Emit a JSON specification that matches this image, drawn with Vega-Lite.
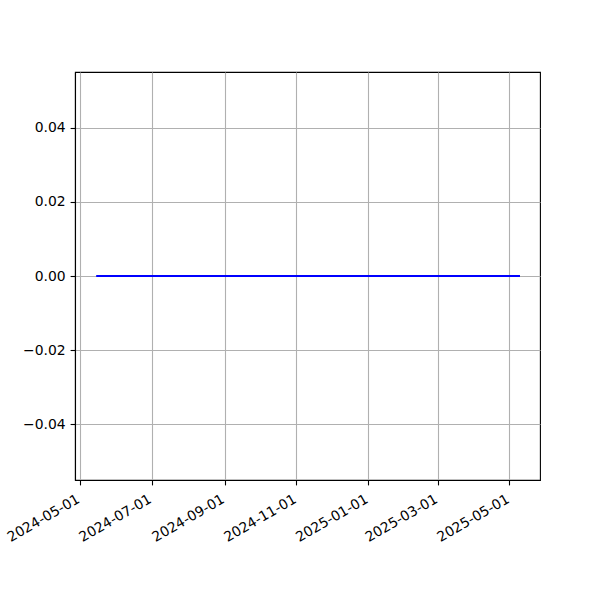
{
  "$schema": "https://vega.github.io/schema/vega-lite/v6.json",
  "width": 465,
  "height": 408,
  "autosize": "none",
  "padding": {"left": 75, "top": 72, "right": 60, "bottom": 120},
  "background": "white",
  "config": {
    "font": "DejaVu Sans",
    "view": {"stroke": "black", "strokeWidth": 1.1},
    "axis": {
      "labelFont": "DejaVu Sans",
      "labelFontSize": 13.9,
      "labelColor": "black",
      "domainColor": "black",
      "domainWidth": 1.1,
      "tickColor": "black",
      "tickWidth": 1.1,
      "tickSize": 4.9,
      "labelPadding": 4.9,
      "gridColor": "#b0b0b0",
      "gridWidth": 1.1,
      "title": null
    }
  },
  "data": {
    "values": [
      {"date": "2024-05-15T00:00:00", "value": 0},
      {"date": "2024-06-15T00:00:00", "value": 0},
      {"date": "2024-07-15T00:00:00", "value": 0},
      {"date": "2024-08-15T00:00:00", "value": 0},
      {"date": "2024-09-15T00:00:00", "value": 0},
      {"date": "2024-10-15T00:00:00", "value": 0},
      {"date": "2024-11-15T00:00:00", "value": 0},
      {"date": "2024-12-15T00:00:00", "value": 0},
      {"date": "2025-01-15T00:00:00", "value": 0},
      {"date": "2025-02-15T00:00:00", "value": 0},
      {"date": "2025-03-15T00:00:00", "value": 0},
      {"date": "2025-04-15T00:00:00", "value": 0},
      {"date": "2025-05-10T00:00:00", "value": 0}
    ]
  },
  "mark": {"type": "line", "color": "#0000ff", "strokeWidth": 2.1, "clip": true},
  "encoding": {
    "x": {
      "field": "date",
      "type": "temporal",
      "scale": {
        "domain": [
          {"year": 2024, "month": 4, "date": 27},
          {"year": 2025, "month": 5, "date": 27}
        ],
        "nice": false
      },
      "axis": {
        "values": [
          {"year": 2024, "month": 5, "date": 1},
          {"year": 2024, "month": 7, "date": 1},
          {"year": 2024, "month": 9, "date": 1},
          {"year": 2024, "month": 11, "date": 1},
          {"year": 2025, "month": 1, "date": 1},
          {"year": 2025, "month": 3, "date": 1},
          {"year": 2025, "month": 5, "date": 1}
        ],
        "format": "%Y-%m-%d",
        "labelAngle": -30,
        "labelAlign": "right",
        "labelBaseline": "top",
        "labelFlush": false,
        "labelOverlap": false,
        "labelOffset": -5,
        "labelPadding": 7,
        "grid": true
      }
    },
    "y": {
      "field": "value",
      "type": "quantitative",
      "scale": {"domain": [-0.055, 0.055], "nice": false, "zero": false},
      "axis": {
        "values": [-0.04, -0.02, 0, 0.02, 0.04],
        "format": ".2f",
        "labelExpr": "replace(format(datum.value, '.2f'), '-', '\u2212')",
        "grid": true
      }
    }
  }
}
